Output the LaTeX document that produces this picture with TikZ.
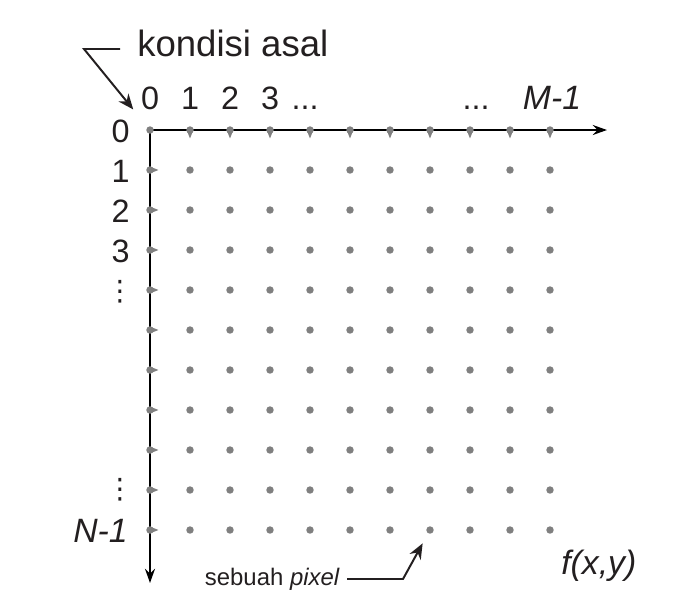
\documentclass[tikz,border=0pt]{standalone}
\usepackage{fontspec}
\setmainfont{Liberation Sans}
\newfontfamily\symfont{DejaVu Sans}
\usetikzlibrary{arrows.meta, positioning}
\definecolor{dotgray}{RGB}{128,128,128}
\definecolor{ink}{RGB}{35,31,32}
\tikzstyle{pixel} = [circle, fill=dotgray, inner sep=0pt, minimum size=5.3pt]
\tikzstyle{numlabel} = [text=ink, inner sep=0pt, font=\fontsize{23}{27}\selectfont]
\tikzstyle{namelabel} = [text=ink, inner sep=0pt, font=\fontsize{24}{28}\selectfont\itshape]
\tikzstyle{note} = [text=ink, inner sep=0pt]
\tikzstyle{axis} = [line width=2pt, -{Stealth[length=10pt, width=7pt]}]
\tikzstyle{leader} = [ink, line width=1.4pt, -{Stealth[length=11pt, width=9pt]}]

\begin{document}
\begin{tikzpicture}[x=0.025cm, y=-0.025cm]
\useasboundingbox (0,0) rectangle (690,613);

% Axes
\coordinate (origin) at (150,130);
\coordinate (xend) at (607,130);
\coordinate (yend) at (150,583);
\draw [axis] (origin) -- (xend);
\draw [axis] (origin) -- (yend);

% Pixel grid
\foreach \i in {0,...,10}
  \foreach \j in {0,...,10}
    \node (p-\i-\j) [pixel] at ({150+40*\i},{130+40*\j}) {};

% Tick points on the axes
\foreach \i in {1,...,10} {
  \fill [dotgray] ([xshift=-2.4pt]p-\i-0.center) -- ([yshift=-6pt]p-\i-0.center) -- ([xshift=2.4pt]p-\i-0.center) -- cycle;
  \fill [dotgray] ([yshift=2.4pt]p-0-\i.center) -- ([xshift=6pt]p-0-\i.center) -- ([yshift=-2.4pt]p-0-\i.center) -- cycle;
}

% Column numbers
\node (c0) [numlabel, anchor=base] at (150,109) {0};
\node (c1) [numlabel, anchor=base] at (190,109) {1};
\node (c2) [numlabel, anchor=base] at (230,109) {2};
\node (c3) [numlabel, anchor=base] at (270,109) {3};
\node (cdots) [numlabel, anchor=base] at (305,109) {...};
\node (cdots2) [numlabel, anchor=base] at (476,109) {...};
\node (cM) [namelabel, anchor=base] at (552,109) {M-1};

% Row numbers
\node (r0) [numlabel, anchor=base east] at (130,142) {0};
\node (r1) [numlabel, anchor=base east] at (130,182) {1};
\node (r2) [numlabel, anchor=base east] at (130,222) {2};
\node (r3) [numlabel, anchor=base east] at (130,262) {3};
\node (rdots) [numlabel, font=\fontsize{20}{24}\symfont] at (120,292) {⋮};
\node (rdots2) [numlabel, font=\fontsize{20}{24}\symfont] at (120,490) {⋮};
\node (rN) [namelabel, anchor=base east] at (128,542) {N-1};

% Notes
\node (asal) [note, anchor=base west, font=\fontsize{26}{30}\selectfont] at (137,56) {kondisi asal};
\coordinate (asalbend) at (84,49);
\draw [leader, shorten >=16pt] (asal.west |- asalbend) ++(-12pt,0) -- (asalbend) -- (p-0-0);

\node (sebuah) [note, anchor=base east, font=\fontsize{17}{20}\selectfont] at (340,585) {sebuah \textit{pixel}};
\coordinate (sebuahbend) at (403,579);
\draw [leader, shorten >=8pt] ([xshift=5pt]sebuah.east |- sebuahbend) -- (sebuahbend) -- (p-7-10);

\node (fxy) [namelabel, anchor=base west] at (561,574) {f(x,y)};

\end{tikzpicture}
\end{document}
